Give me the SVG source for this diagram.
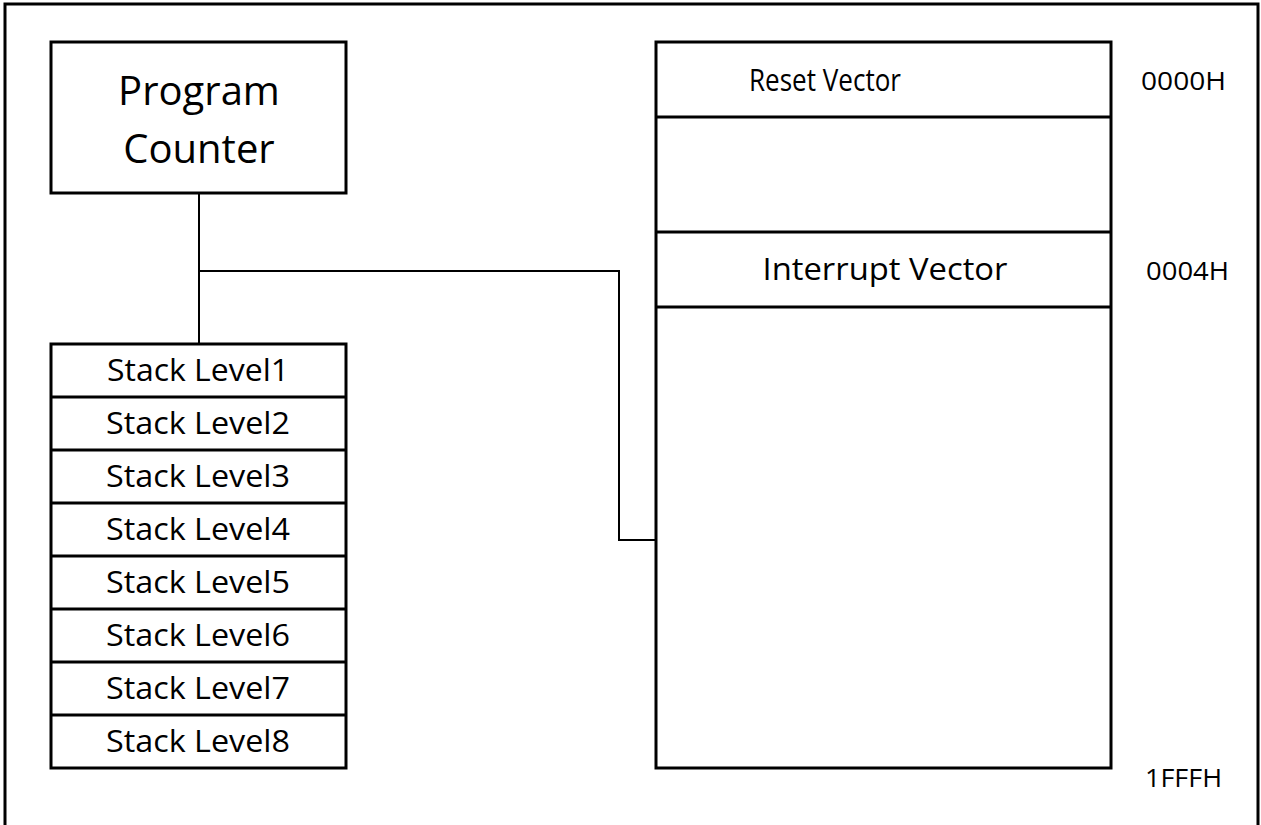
<svg xmlns="http://www.w3.org/2000/svg" width="1261" height="825" viewBox="0 0 1261 825">
  <style>
    .box { fill: #ffffff; stroke: #000000; stroke-width: 3; }
    .div { stroke: #000000; stroke-width: 3; }
    .wire { fill: none; stroke: #000000; stroke-width: 2; }
    .lbl { font-family: "Open Sans", "Liberation Sans", sans-serif; fill: #000000; text-anchor: middle; }
    .stk { font-size: 31px; }
    .pc { font-size: 40px; }
    .mem { font-size: 31px; }
    .addr { font-size: 25px; text-anchor: start; }
  </style>
  <rect x="0" y="0" width="1261" height="825" fill="#ffffff"/>
  <!-- outer frame -->
  <path d="M5,830 V4 H1258 V830" fill="none" stroke="#000000" stroke-width="3"/>

  <!-- connectors -->
  <g id="connectors">
    <path class="wire" d="M199,193 V344"/>
    <path class="wire" d="M199,271 H619 V540 H656"/>
  </g>

  <g id="program-counter">
    <rect class="box" x="51" y="42" width="295" height="151"/>
    <text class="lbl pc" x="199" y="105">Program</text>
    <text class="lbl pc" x="199" y="163">Counter</text>
  </g>

  <g id="stack">
    <rect class="box" x="51" y="344" width="295" height="424"/>
    <line class="div" x1="51" y1="397" x2="346" y2="397"/>
    <line class="div" x1="51" y1="450" x2="346" y2="450"/>
    <line class="div" x1="51" y1="503" x2="346" y2="503"/>
    <line class="div" x1="51" y1="556" x2="346" y2="556"/>
    <line class="div" x1="51" y1="609" x2="346" y2="609"/>
    <line class="div" x1="51" y1="662" x2="346" y2="662"/>
    <line class="div" x1="51" y1="715" x2="346" y2="715"/>
    <text class="lbl stk" x="198" y="381" textLength="182" lengthAdjust="spacingAndGlyphs">Stack Level1</text>
    <text class="lbl stk" x="198" y="434" textLength="184" lengthAdjust="spacingAndGlyphs">Stack Level2</text>
    <text class="lbl stk" x="198" y="487" textLength="184" lengthAdjust="spacingAndGlyphs">Stack Level3</text>
    <text class="lbl stk" x="198" y="540" textLength="184" lengthAdjust="spacingAndGlyphs">Stack Level4</text>
    <text class="lbl stk" x="198" y="593" textLength="184" lengthAdjust="spacingAndGlyphs">Stack Level5</text>
    <text class="lbl stk" x="198" y="646" textLength="184" lengthAdjust="spacingAndGlyphs">Stack Level6</text>
    <text class="lbl stk" x="198" y="699" textLength="184" lengthAdjust="spacingAndGlyphs">Stack Level7</text>
    <text class="lbl stk" x="198" y="752" textLength="184" lengthAdjust="spacingAndGlyphs">Stack Level8</text>
  </g>

  <g id="program-memory">
    <rect class="box" x="656" y="42" width="455" height="726"/>
    <line class="div" x1="656" y1="117" x2="1111" y2="117"/>
    <line class="div" x1="656" y1="232" x2="1111" y2="232"/>
    <line class="div" x1="656" y1="307" x2="1111" y2="307"/>
    <text class="lbl mem" x="825" y="91" textLength="152" lengthAdjust="spacingAndGlyphs">Reset Vector</text>
    <text class="lbl mem" x="885" y="280" textLength="245" lengthAdjust="spacingAndGlyphs">Interrupt Vector</text>
  </g>

  <g id="addresses">
    <text class="lbl addr" x="1141" y="90" textLength="85" lengthAdjust="spacingAndGlyphs">0000H</text>
    <text class="lbl addr" x="1146" y="280" textLength="83" lengthAdjust="spacingAndGlyphs">0004H</text>
    <text class="lbl addr" x="1145" y="787" textLength="77" lengthAdjust="spacingAndGlyphs">1FFFH</text>
  </g>
</svg>
